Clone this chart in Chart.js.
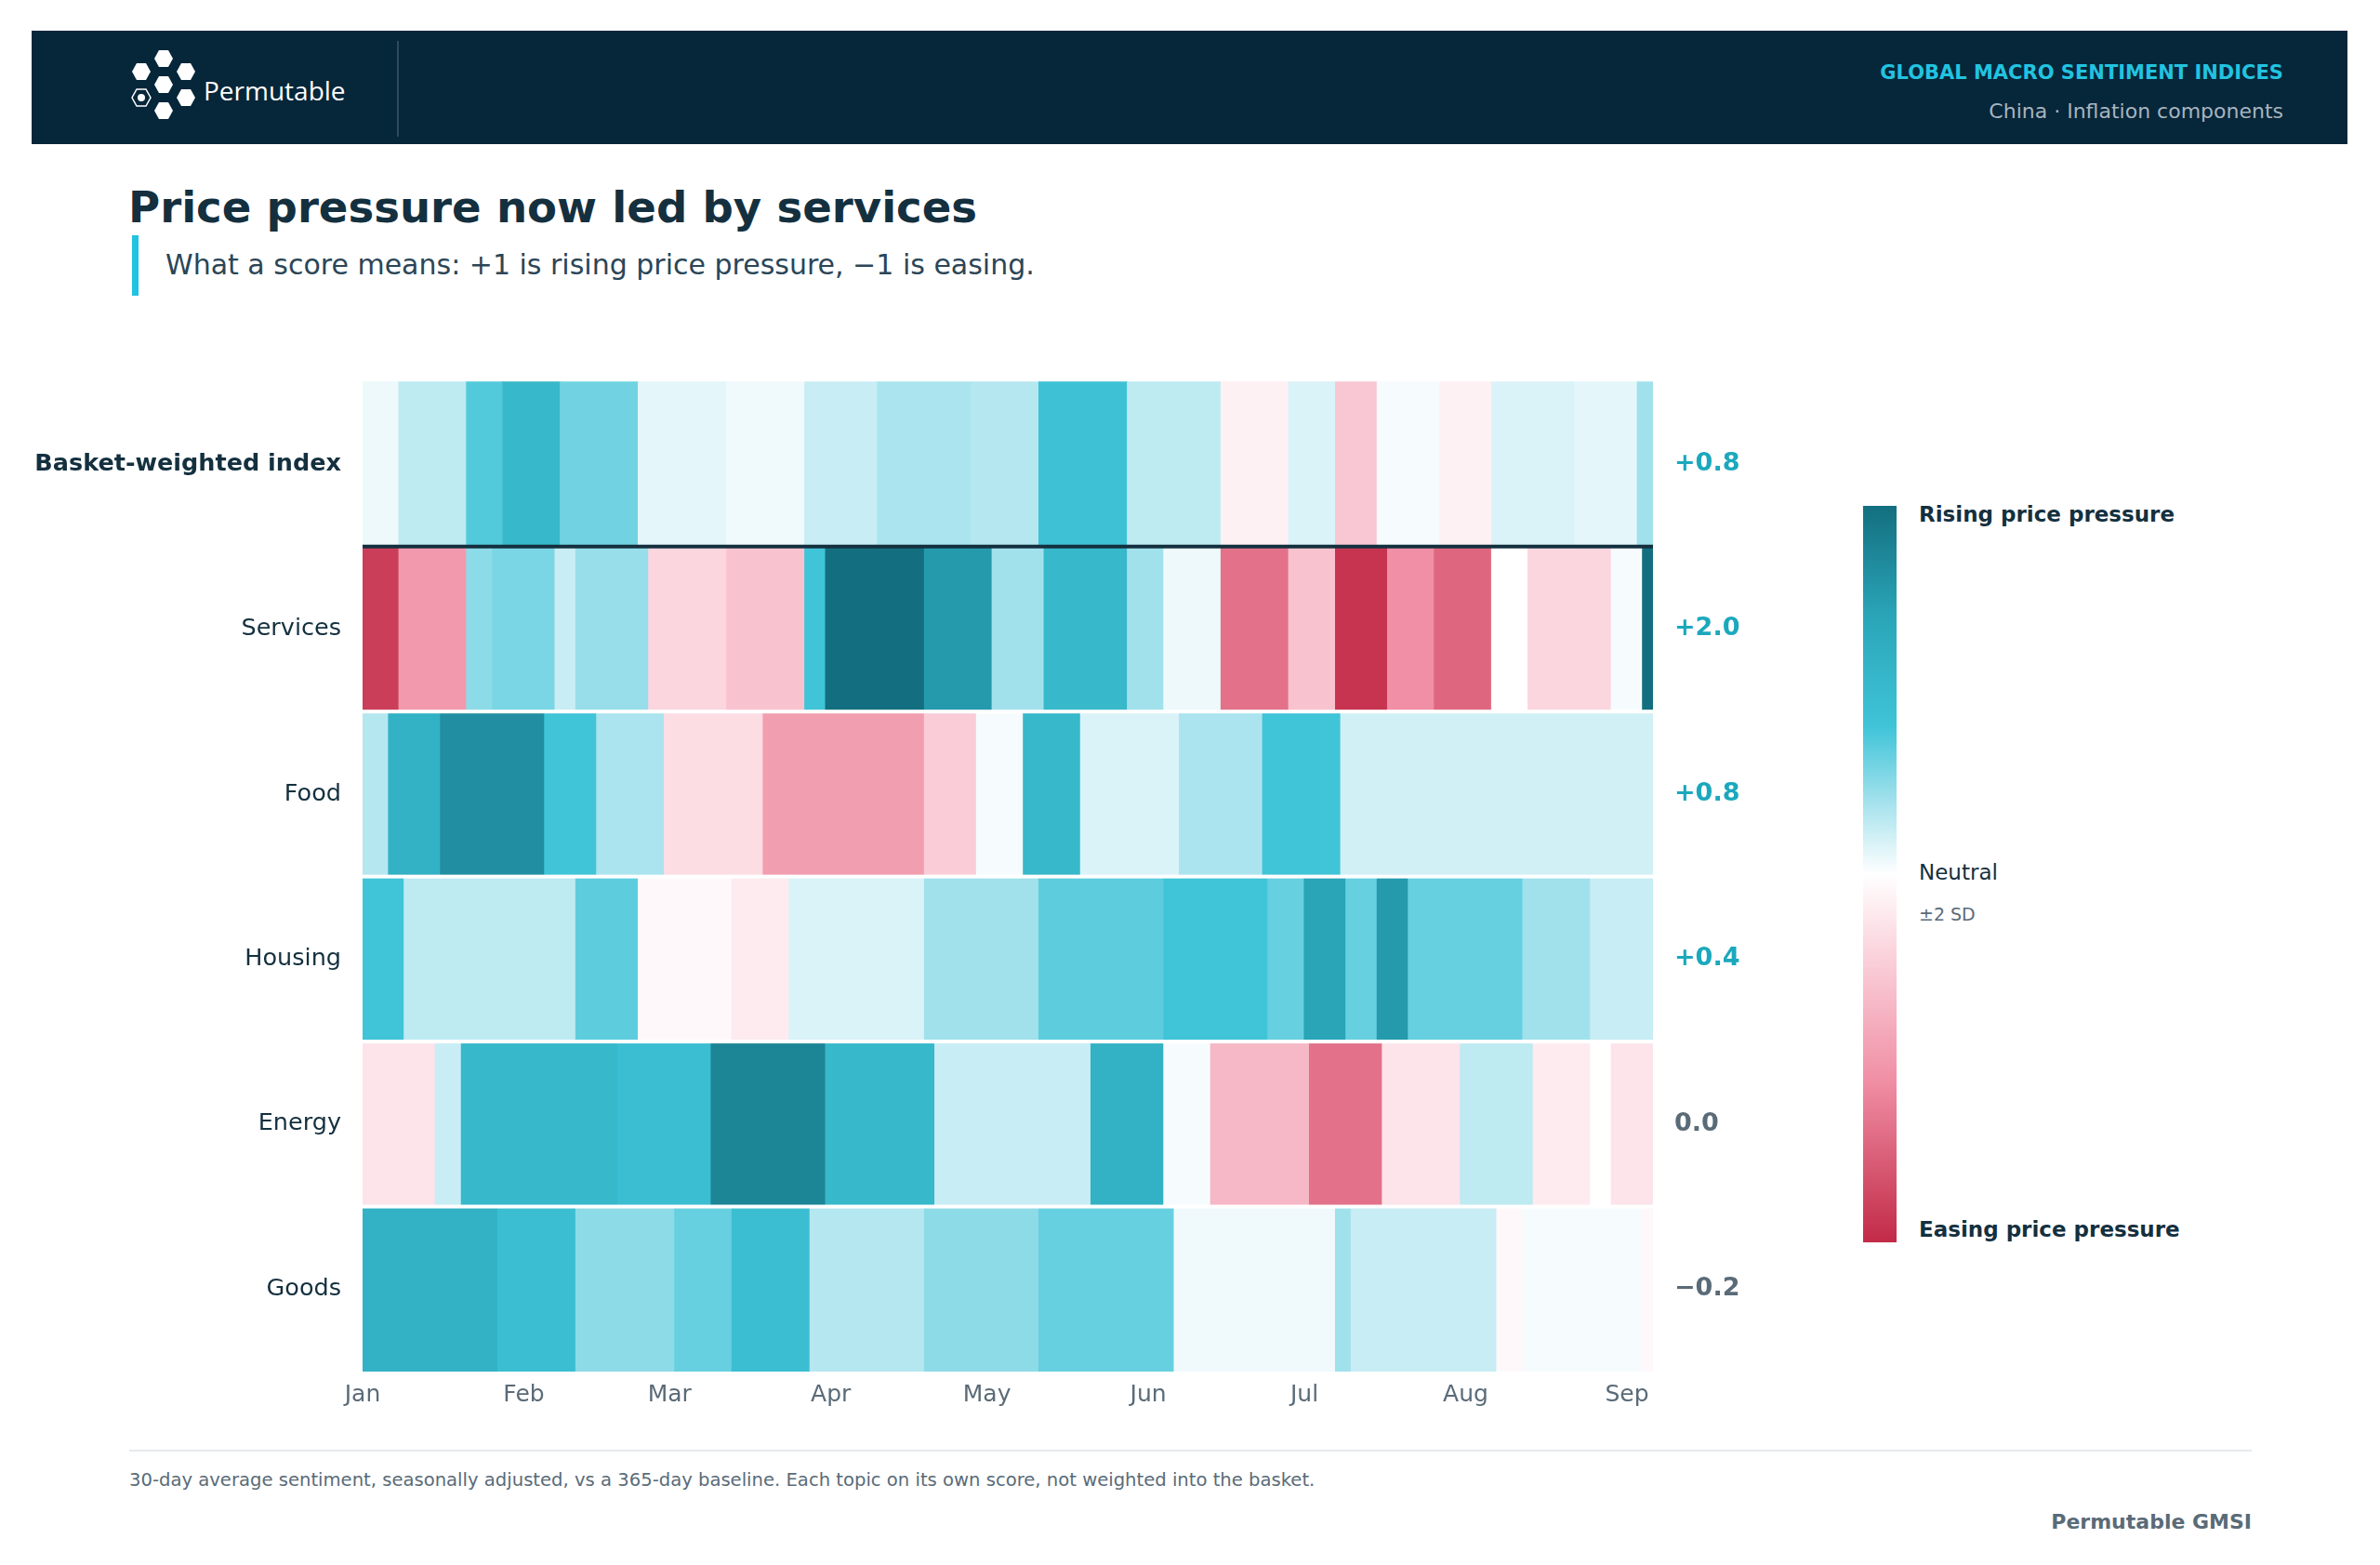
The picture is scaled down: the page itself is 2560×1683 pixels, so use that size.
<!DOCTYPE html>
<html><head><meta charset="utf-8">
<script src="https://cdn.jsdelivr.net/npm/chart.js@4.4.1/dist/chart.umd.min.js"></script>
<style>
body{margin:0;width:2560px;height:1683px;background:#fff;font-family:"DejaVu Sans",sans-serif;position:relative;overflow:hidden}
.abs{position:absolute}
</style></head><body>
<div class="abs" style="left:34px;top:33px;width:2491px;height:122px;background:#06263a"></div>
<svg class="abs" style="left:130px;top:52px" width="90" height="88" viewBox="0 0 90 88">
<g fill="#fff">
<polygon points="41,2 51,2 56,11 51,20 41,20 36,11"/>
<polygon points="17,16 27,16 32,25 27,34 17,34 12,25"/>
<polygon points="65,16 75,16 80,25 75,34 65,34 60,25"/>
<polygon points="41,30 51,30 56,39 51,48 41,48 36,39"/>
<polygon points="65,44 75,44 80,53 75,62 65,62 60,53"/>
<polygon points="41,58 51,58 56,67 51,76 41,76 36,67"/>
</g>
<polygon points="17,44 27,44 32,53 27,62 17,62 12,53" fill="none" stroke="#fff" stroke-width="1.5"/>
<circle cx="22" cy="53" r="4" fill="#fff"/>
</svg>
<div class="abs" style="left:219px;top:78px;color:#fff;font-size:28px;font-family:'Open Sans',sans-serif">Permutable</div>
<div class="abs" style="left:427px;top:44px;width:2px;height:103px;background:#2f4a5c"></div>
<div class="abs" style="right:104px;top:66px;color:#22c3e0;font-size:21px;font-weight:bold">GLOBAL MACRO SENTIMENT INDICES</div>
<div class="abs" style="right:104px;top:107px;color:#a7b4bf;font-size:22px">China · Inflation components</div>
<div class="abs" style="left:138px;top:196px;color:#14303f;font-size:46.6px;font-weight:bold">Price pressure now led by services</div>
<div class="abs" style="left:142px;top:253px;width:7px;height:65px;background:#22c3e0"></div>
<div class="abs" style="left:178px;top:267px;color:#2b4657;font-size:30px">What a score means: +1 is rising price pressure, −1 is easing.</div>
<div class="abs" style="left:2004px;top:544px;width:36px;height:792px;background:linear-gradient(#136f7f 0%,#2aa5b8 15%,#40c4d8 30%,#b5e7f0 42%,#ffffff 50%,#fbd6df 60%,#f08fa5 78%,#c22a47 100%)"></div>
<div class="abs" style="left:2064px;top:540px;color:#14303f;font-size:23px;font-weight:bold">Rising price pressure</div>
<div class="abs" style="left:2064px;top:925px;color:#14303f;font-size:23px">Neutral</div>
<div class="abs" style="left:2064px;top:972px;color:#5a6b78;font-size:19px">±2 SD</div>
<div class="abs" style="left:2064px;top:1309px;color:#14303f;font-size:23px;font-weight:bold">Easing price pressure</div>
<div class="abs" style="left:139px;top:1559px;width:2283px;height:2px;background:#e6eaed"></div>
<div class="abs" style="left:139px;top:1580px;color:#5a6b78;font-size:19.6px">30-day average sentiment, seasonally adjusted, vs a 365-day baseline. Each topic on its own score, not weighted into the basket.</div>
<div class="abs" style="right:138px;top:1624px;color:#5a6b78;font-size:22px;font-weight:bold">Permutable GMSI</div>
<div class="abs" style="left:0;top:380px;width:1900px;height:1160px"><canvas id="c"></canvas></div>
<script>
const rows=["Basket-weighted index","Services","Food","Housing","Energy","Goods"];
const latest=["+0.8","+2.0","+0.8","+0.4","0.0","−0.2"];
const months=["Jan","Feb","Mar","Apr","May","Jun","Jul","Aug","Sep"];
const monthDays=[0,31,59,90,120,151,181,212,243];
const endDay=248;
// [startDay, score in SD]
const basket=[[0,0.1],[7,0.35],[20,0.9],[27,1.2],[38,0.75],[53,0.15],[70,0.08],[85,0.3],[99,0.45],[117,0.4],[130,1.05],[147,0.35],[165,-0.1],[178,0.2],[187,-0.45],[195,0.05],[207,-0.1],[217,0.2],[233,0.15],[245,0.5]];
const services=[[0,-1.8],[7,-0.9],[20,0.6],[25,0.7],[37,0.3],[41,0.55],[55,-0.3],[70,-0.5],[85,1.0],[89,2.0],[108,1.6],[121,0.5],[131,1.2],[147,0.5],[154,0.1],[165,-1.3],[178,-0.5],[187,-1.9],[197,-1.0],[206,-1.4],[217,0.0],[224,-0.3],[240,0.05],[246,2.0]];
const food=[[0,0.4],[5,1.3],[15,1.7],[35,1.0],[45,0.45],[58,-0.25],[77,-0.85],[108,-0.4],[118,0.05],[127,1.2],[138,0.2],[157,0.45],[173,1.0],[188,0.25]];
const housing=[[0,1.0],[8,0.35],[41,0.85],[53,-0.05],[71,-0.15],[82,0.2],[108,0.5],[130,0.85],[154,1.0],[174,0.8],[181,1.5],[189,0.8],[195,1.6],[201,0.8],[223,0.5],[236,0.3]];
const energy=[[0,-0.2],[14,0.3],[19,1.2],[49,1.1],[67,1.8],[89,1.2],[110,0.3],[140,1.3],[154,0.05],[163,-0.6],[182,-1.3],[196,-0.2],[211,0.35],[225,-0.15],[236,0],[240,-0.2]];
const goods=[[0,1.3],[26,1.1],[41,0.6],[60,0.8],[71,1.1],[86,0.4],[108,0.6],[130,0.8],[156,0.08],[187,0.5],[190,0.3],[218,-0.05],[223,0.05],[246,-0.05]];
const series=[basket,services,food,housing,energy,goods];

const stops=[[-2,[194,42,71]],[-1,[240,143,165]],[-0.3,[251,214,223]],[0,[255,255,255]],[0.3,[200,237,244]],[1,[64,196,216]],[1.5,[42,165,184]],[2,[19,111,127]]];
function col(v){v=Math.max(-2,Math.min(2,v));for(let i=0;i<stops.length-1;i++){const a=stops[i],b=stops[i+1];if(v<=b[0]){const t=(v-a[0])/(b[0]-a[0]);const c=a[1].map((x,k)=>Math.round(x+(b[1][k]-x)*t));return `rgb(${c})`;}}return 'rgb(19,111,127)';}

const datasets=series.map((s,ri)=>({
 data:s.map((p,i)=>({x:[p[0],i<s.length-1?s[i+1][0]:endDay],y:rows[ri]})),
 backgroundColor:s.map(p=>col(p[1])),borderWidth:0,barPercentage:1,categoryPercentage:1,grouped:false,inflateAmount:0.6
}));
const overlay={id:'ov',afterDatasetsDraw(ch){
 const {ctx,chartArea:a,scales:{y}}=ch;ctx.save();
 for(let i=1;i<rows.length;i++){const yy=(y.getPixelForValue(i-1)+y.getPixelForValue(i))/2;
  ctx.fillStyle=i===1?'#14303f':'#ffffff';ctx.fillRect(a.left,yy-2,a.right-a.left,4);}
 ctx.font='bold 27px "DejaVu Sans"';ctx.textBaseline='middle';
 latest.forEach((t,i)=>{ctx.fillStyle=(t.startsWith('+'))?'#1ba8bd':'#5a6b78';ctx.fillText(t,a.right+23,y.getPixelForValue(i));});
 ctx.restore();}};
new Chart(document.getElementById('c'),{type:'bar',data:{labels:rows,datasets},plugins:[overlay],
options:{indexAxis:'y',responsive:true,maintainAspectRatio:false,animation:false,
 layout:{padding:{top:17,right:122,left:0,bottom:0}},
 plugins:{legend:{display:false},tooltip:{enabled:false}},
 scales:{
  x:{type:'linear',min:0,max:endDay,grid:{display:false},border:{display:false},
   afterBuildTicks:s=>{s.ticks=monthDays.map(v=>({value:v}));},
   afterFit:s=>{s.height=65;},
   ticks:{autoSkip:false,maxRotation:0,color:'#5a6b78',font:{size:25,family:'DejaVu Sans'},padding:2,callback:(v)=>months[monthDays.indexOf(v)]}},
  y:{type:'category',grid:{display:false},border:{display:false},afterFit:s=>{s.width=390;},
   ticks:{color:'#14303f',padding:15,font:c=>({size:25.5,family:'DejaVu Sans',weight:c.index===0?'bold':'normal'})}}
 }}});
</script></body></html>
